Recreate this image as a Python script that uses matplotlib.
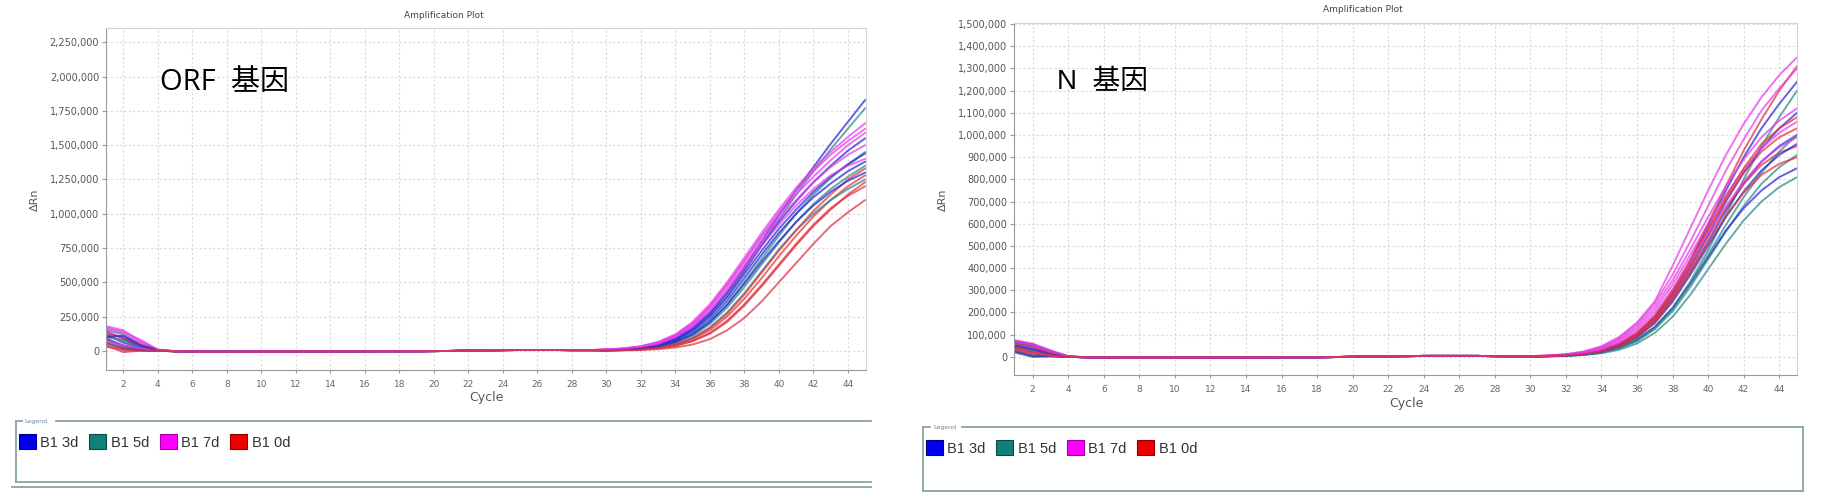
import matplotlib
matplotlib.use("Agg")
import matplotlib.pyplot as plt
from matplotlib.lines import Line2D
from matplotlib.patches import Patch
from matplotlib.ticker import FuncFormatter

# ---- data (values in thousands of dRn) ----
cycles = list(range(1, 46))
group_names = ["B1 3d", "B1 5d", "B1 7d", "B1 0d"]
line_colors = ["#2626d6", "#2c8a88", "#e63ce6", "#e0323e"]
legend_colors = ["#0000ee", "#108078", "#ff00ff", "#ee0000"]
legend_edges = ["#000088", "#0a4a46", "#a000a0", "#900000"]

# ORF gene: cycles 1-4, shared baseline 5-29, cycles 30-45
orf_base = [-3, -5, -6, -6, -6, -5, -5, -5, -4, -5, -4, -4, -3, -3, -3, -2, -1, 1, 3, 5, 6, 6, 6, 5, 5]

orf_3d_head = [[120, 60, 20, 2], [90, 40, 10, 0], [140, 90, 30, 3], [60, 20, 5, 0], [100, 110, 40, 5]]
orf_3d_tail = [
    [8, 14, 26, 50, 95, 170, 280, 430, 610, 800, 990, 1170, 1340, 1510, 1670, 1830],
    [6, 12, 22, 44, 88, 160, 270, 420, 590, 770, 940, 1090, 1230, 1350, 1460, 1550],
    [5, 10, 20, 40, 80, 150, 250, 390, 560, 730, 890, 1030, 1160, 1270, 1360, 1440],
    [5, 9, 18, 36, 72, 135, 230, 365, 530, 700, 860, 1000, 1120, 1220, 1310, 1380],
    [4, 8, 16, 32, 64, 120, 210, 335, 490, 650, 800, 940, 1060, 1160, 1240, 1300],
]
orf_5d_head = [[80, 30, 8, 0], [150, 120, 50, 5], [50, 10, 3, 0], [110, 70, 25, 2]]
orf_5d_tail = [
    [5, 10, 20, 40, 80, 150, 255, 400, 580, 770, 960, 1140, 1310, 1470, 1620, 1770],
    [4, 8, 16, 32, 64, 120, 210, 340, 500, 670, 840, 1000, 1140, 1260, 1360, 1450],
    [3, 6, 12, 25, 50, 95, 170, 280, 420, 580, 740, 880, 1000, 1100, 1180, 1250],
    [4, 8, 15, 30, 60, 110, 195, 315, 465, 630, 790, 940, 1070, 1180, 1270, 1350],
]
orf_7d_head = [[180, 150, 70, 8], [160, 130, 60, 6], [130, 100, 45, 4], [70, 40, 15, 1], [170, 140, 80, 10]]
orf_7d_tail = [
    [10, 18, 34, 65, 120, 210, 340, 500, 680, 860, 1030, 1190, 1330, 1450, 1560, 1660],
    [9, 16, 30, 58, 110, 195, 320, 475, 650, 830, 990, 1140, 1270, 1390, 1500, 1590],
    [8, 15, 28, 55, 105, 185, 305, 455, 625, 800, 960, 1100, 1230, 1340, 1430, 1500],
    [8, 14, 26, 50, 98, 175, 290, 435, 600, 765, 920, 1060, 1180, 1280, 1350, 1400],
    [9, 17, 32, 60, 115, 200, 325, 485, 660, 840, 1010, 1170, 1310, 1430, 1530, 1620],
]
orf_0d_head = [[40, -10, 2, 0], [100, 80, 30, 3], [30, 5, 0, 0], [120, 100, 40, 4], [60, 15, 5, 0]]
orf_0d_tail = [
    [3, 6, 11, 22, 44, 85, 150, 250, 380, 530, 690, 840, 980, 1100, 1200, 1280],
    [2, 5, 10, 19, 38, 72, 130, 220, 340, 480, 630, 780, 920, 1040, 1130, 1200],
    [1, 3, 6, 12, 24, 46, 85, 150, 240, 360, 500, 640, 780, 910, 1010, 1100],
    [3, 6, 12, 24, 48, 92, 165, 270, 410, 570, 730, 880, 1020, 1140, 1250, 1330],
    [2, 5, 9, 18, 36, 70, 125, 210, 330, 470, 620, 770, 910, 1030, 1140, 1230],
]

# N gene
n_base = [-2, -3, -4, -4, -4, -4, -3, -3, -3, -3, -3, -2, -2, -2, -1, 0, 1, 2, 3, 4, 4, 4, 4, 3, 2]

n_3d_head = [[60, 45, 15, 0], [40, 25, 8, 0], [70, 55, 25, 2], [25, 5, 2, 0], [50, 35, 12, 0]]
n_3d_tail = [
    [2, 4, 8, 15, 30, 58, 105, 180, 290, 430, 590, 750, 900, 1030, 1140, 1240],
    [2, 4, 7, 14, 28, 55, 100, 170, 275, 405, 550, 700, 830, 940, 1030, 1100],
    [2, 3, 6, 12, 25, 50, 92, 160, 260, 385, 520, 660, 780, 880, 950, 1000],
    [1, 3, 5, 10, 21, 42, 78, 135, 220, 330, 450, 570, 670, 750, 810, 850],
    [2, 3, 6, 12, 24, 48, 88, 152, 248, 370, 500, 630, 745, 840, 910, 960],
]
n_5d_head = [[30, 10, 4, 0], [55, 40, 15, 1], [20, 0, 2, 0], [45, 30, 10, 0]]
n_5d_tail = [
    [1, 3, 5, 10, 20, 40, 75, 132, 220, 340, 480, 640, 800, 950, 1080, 1200],
    [1, 2, 4, 8, 16, 32, 60, 108, 180, 280, 395, 510, 615, 700, 765, 810],
    [1, 2, 5, 9, 19, 38, 70, 125, 205, 315, 440, 565, 680, 780, 855, 910],
    [1, 3, 5, 10, 20, 40, 74, 130, 215, 330, 460, 595, 720, 830, 925, 1000],
]
n_7d_head = [[75, 60, 30, 3], [65, 50, 20, 2], [50, 40, 15, 0], [35, 20, 6, 0], [70, 55, 25, 2]]
n_7d_tail = [
    [3, 6, 12, 24, 48, 90, 155, 250, 410, 580, 750, 910, 1050, 1170, 1270, 1350],
    [3, 6, 11, 22, 44, 84, 148, 240, 370, 520, 680, 840, 980, 1110, 1210, 1300],
    [3, 5, 10, 20, 40, 78, 138, 225, 345, 485, 630, 770, 890, 990, 1065, 1120],
    [2, 5, 9, 18, 37, 72, 128, 210, 325, 460, 600, 730, 845, 940, 1010, 1060],
    [2, 4, 8, 16, 33, 65, 118, 195, 305, 430, 560, 680, 790, 880, 945, 990],
]
n_0d_head = [[20, 0, 3, 0], [45, 30, 10, 0], [60, 50, 18, 1], [30, 15, 5, 0], [40, 20, 8, 0]]
n_0d_tail = [
    [2, 4, 8, 15, 30, 60, 108, 185, 300, 440, 600, 770, 930, 1070, 1200, 1310],
    [2, 4, 7, 14, 28, 56, 102, 175, 285, 420, 570, 710, 830, 925, 990, 1030],
    [2, 3, 6, 13, 26, 52, 95, 165, 270, 400, 540, 670, 780, 865, 920, 950],
    [2, 4, 7, 14, 29, 57, 104, 178, 288, 425, 575, 720, 850, 960, 1030, 1080],
    [1, 3, 6, 12, 24, 48, 88, 155, 255, 380, 510, 635, 740, 820, 870, 900],
]

orf_yticks = [0, 250000, 500000, 750000, 1000000, 1250000, 1500000, 1750000, 2000000, 2250000]
n_yticks = list(range(0, 1500001, 100000))
x_ticks = list(range(2, 45, 2))

W, H = 1825, 503
fig = plt.figure(figsize=(W / 100, H / 100), dpi=100)
fig.patch.set_facecolor("white")


def fx(x):
    return x / W


def fy(y):
    return 1 - y / H


def draw_panel(rect, base, heads, tails, yticks, ylim, xlim):
    ax = fig.add_axes(rect)
    n = max(len(t) for t in tails)
    for i in range(n):
        for g in range(4):
            if i < len(tails[g]):
                vals = heads[g][i] + base + tails[g][i]
                ax.plot(cycles, [v * 1000 for v in vals], color=line_colors[g],
                        lw=1.4, alpha=0.72, solid_capstyle="round")
    ax.set_xlim(*xlim)
    ax.set_ylim(*ylim)
    ax.set_xticks(x_ticks)
    ax.set_yticks(yticks)
    ax.yaxis.set_major_formatter(FuncFormatter(lambda v, p: f"{int(v):,}"))
    ax.grid(True, color="#dadada", lw=0.8, ls=(0, (2, 2)))
    ax.set_axisbelow(True)
    ax.tick_params(axis="y", length=3, width=0.8, pad=2, labelsize=7, colors="#9a9a9a", labelcolor="#555555")
    ax.tick_params(axis="x", length=2, width=0.8, pad=5, labelsize=6.5, colors="#9a9a9a", labelcolor="#666666")
    for side in ["left", "bottom"]:
        ax.spines[side].set_color("#9a9a9a")
    for side in ["top", "right"]:
        ax.spines[side].set_color("#d4d4d4")
    return ax


ax1 = draw_panel([fx(106), fy(370), fx(866 - 106), (370 - 28) / H], orf_base,
                 [orf_3d_head, orf_5d_head, orf_7d_head, orf_0d_head],
                 [orf_3d_tail, orf_5d_tail, orf_7d_tail, orf_0d_tail],
                 orf_yticks, (-140000, 2355000), (1, 45.05))
ax2 = draw_panel([fx(1014), fy(375), fx(1797 - 1014), (375 - 23) / H], n_base,
                 [n_3d_head, n_5d_head, n_7d_head, n_0d_head],
                 [n_3d_tail, n_5d_tail, n_7d_tail, n_0d_tail],
                 n_yticks, (-82000, 1505000), (0.95, 45))

# titles and axis labels
fig.text(fx(444), fy(16), "Amplification Plot", fontsize=6.5, color="#444444", ha="center", va="center")
fig.text(fx(1363), fy(9), "Amplification Plot", fontsize=6.5, color="#444444", ha="center", va="center")
fig.text(fx(35), fy(200), "ΔRn", fontsize=8, color="#555555", rotation=90, ha="center", va="center")
fig.text(fx(943), fy(200), "ΔRn", fontsize=8, color="#555555", rotation=90, ha="center", va="center")
fig.text(fx(486), fy(398), "Cycle", fontsize=9, color="#555555", ha="center", va="center")
fig.text(fx(1406), fy(403), "Cycle", fontsize=9, color="#555555", ha="center", va="center")

fig.text(fx(160), fy(82), "ORF  基因", fontsize=21, color="black", ha="left", va="center",
         family=["Open Sans", "Noto Sans CJK SC"])
fig.text(fx(1057), fy(82), "N  基因", fontsize=20, color="black", ha="left", va="center",
         family=["Liberation Sans", "Noto Sans CJK SC"])

# legend boxes
box_kw = dict(color="#8aa4a4", lw=1.3, transform=fig.transFigure)


def hline(x0, x1, y):
    fig.add_artist(Line2D([fx(x0), fx(x1)], [fy(y), fy(y)], **box_kw))


def vline(x, y0, y1):
    fig.add_artist(Line2D([fx(x), fx(x)], [fy(y0), fy(y1)], **box_kw))


hline(16, 22, 421)
hline(56, 871, 421)
vline(16, 421, 482)
hline(16, 871, 482)
hline(12, 871, 487)
fig.text(fx(24), fy(421), "Legend", fontsize=4.5, color="#6a86a6", ha="left", va="center")

hline(923, 930, 427)
hline(962, 1803, 427)
vline(923, 427, 491)
vline(1803, 427, 491)
hline(923, 1803, 491)
fig.text(fx(933), fy(427), "Legend", fontsize=4.5, color="#6a86a6", ha="left", va="center")

handles = [Patch(facecolor=c, edgecolor=e, lw=0.8) for c, e in zip(legend_colors, legend_edges)]
for x0, y0 in [(19, 442), (926, 448)]:
    fig.legend(handles, group_names, loc="center left", bbox_to_anchor=(fx(x0), fy(y0)),
               ncol=4, frameon=False, handlelength=1.15, handleheight=1.15,
               handletextpad=0.3, columnspacing=0.75, borderpad=0, borderaxespad=0,
               labelcolor="#333333", prop={"family": "Liberation Sans", "size": 10.5})

fig.savefig("out.png", dpi=100, facecolor="white")
